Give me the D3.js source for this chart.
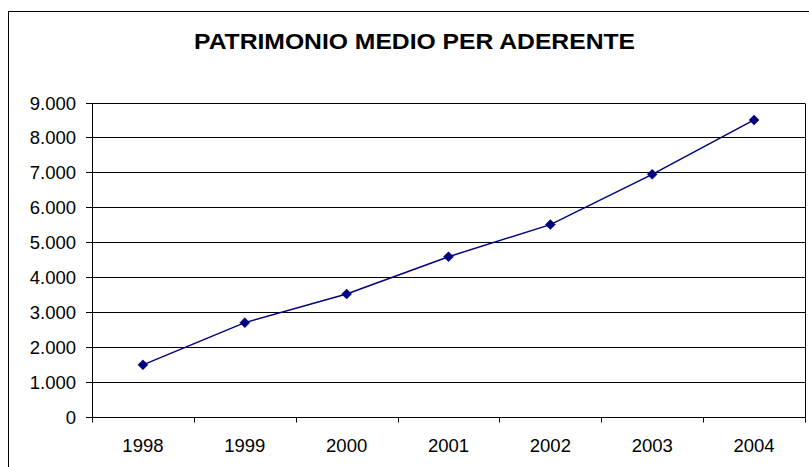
<!DOCTYPE html>
<html>
<head>
<meta charset="utf-8">
<script src="https://cdn.jsdelivr.net/npm/d3@7"></script>
<style>
  html, body { margin: 0; padding: 0; background: #fff; }
  svg { display: block; font-family: "Liberation Sans", Arial, sans-serif; }
</style>
</head>
<body>
<svg id="chart" width="809" height="467"></svg>
<script>
const title = "PATRIMONIO MEDIO PER ADERENTE";
const years = ["1998", "1999", "2000", "2001", "2002", "2003", "2004"];
const values = [1480, 2690, 3510, 4580, 5500, 6940, 8500];
const yTicks = [0, 1000, 2000, 3000, 4000, 5000, 6000, 7000, 8000, 9000];
const yTickLabels = ["0", "1.000", "2.000", "3.000", "4.000", "5.000", "6.000", "7.000", "8.000", "9.000"];

const svg = d3.select("#chart");
const W = 809, H = 467;
const plot = { left: 92, right: 805, top: 102.5, bottom: 416.5 };

svg.append("rect").attr("x", 0).attr("y", 0).attr("width", W).attr("height", H).attr("fill", "#fff");
// outer chart border
svg.append("rect")
  .attr("x", 8.5).attr("y", 11.5).attr("width", W + 10).attr("height", H + 10)
  .attr("fill", "none").attr("stroke", "#000").attr("stroke-width", 1);

// title
svg.append("text")
  .attr("x", (194 + 635) / 2).attr("y", 48.5)
  .attr("text-anchor", "middle")
  .attr("font-size", 22).attr("font-weight", "bold")
  .attr("textLength", 441).attr("lengthAdjust", "spacingAndGlyphs")
  .text(title);

const x = d3.scaleBand().domain(years).range([plot.left, plot.right]).padding(0);
const y = d3.scaleLinear().domain([0, 9000]).range([plot.bottom, plot.top]);

// gridlines
svg.append("g").selectAll("line").data(yTicks.filter(d => d > 0)).join("line")
  .attr("x1", plot.left).attr("x2", plot.right)
  .attr("y1", d => Math.round(y(d)) + 0.5).attr("y2", d => Math.round(y(d)) + 0.5)
  .attr("stroke", "#000").attr("stroke-width", 1);

// plot area right border
svg.append("line")
  .attr("x1", plot.right + 0.5).attr("x2", plot.right + 0.5)
  .attr("y1", Math.round(y(9000)) + 0.5).attr("y2", Math.round(y(0)) + 0.5)
  .attr("stroke", "#000");

// y axis
const yAxis = d3.axisLeft(y).tickValues(yTicks)
  .tickFormat((d, i) => yTickLabels[i]).tickSize(6).tickPadding(10);
const gy = svg.append("g").attr("transform", `translate(${plot.left},0)`).call(yAxis);
gy.select(".domain").remove();
gy.selectAll(".tick line").attr("stroke", "#000");
gy.selectAll(".tick").attr("transform", d => `translate(0,${Math.round(y(d)) + 0.5})`);
gy.append("line").attr("x1", 0.5).attr("x2", 0.5)
  .attr("y1", Math.round(y(9000))).attr("y2", Math.round(y(0)) + 1).attr("stroke", "#000");
gy.selectAll(".tick text")
  .attr("font-size", 18.5).attr("font-family", "'Liberation Sans', Arial, sans-serif")
  .attr("fill", "#000").attr("dy", "0.36em").attr("x", -16);

// x axis
const gx = svg.append("g").attr("transform", `translate(0,${Math.round(y(0)) + 0.5})`);
gx.append("line").attr("x1", plot.left).attr("x2", plot.right + 1).attr("stroke", "#000");
const bounds = years.map(d => x(d)).concat([x(years[years.length - 1]) + x.bandwidth()]);
gx.selectAll("line.tk").data(bounds).join("line").attr("class", "tk")
  .attr("x1", d => Math.round(d) + 0.5).attr("x2", d => Math.round(d) + 0.5)
  .attr("y1", 0).attr("y2", 5).attr("stroke", "#000");
gx.selectAll("text").data(years).join("text")
  .attr("x", d => x(d) + x.bandwidth() / 2).attr("y", 34)
  .attr("text-anchor", "middle").attr("font-size", 18.5).attr("fill", "#000")
  .text(d => d);

// line
const pts = years.map((d, i) => [x(d) + x.bandwidth() / 2, y(values[i])]);
svg.append("path")
  .attr("d", d3.line()(pts))
  .attr("fill", "none").attr("stroke", "#000080").attr("stroke-width", 1.5);

// markers
svg.append("g").selectAll("path").data(pts).join("path")
  .attr("transform", d => `translate(${d[0]},${d[1]})`)
  .attr("d", "M0,-5L5,0L0,5L-5,0Z")
  .attr("fill", "#000080").attr("stroke", "#000080").attr("stroke-width", 0.5);
</script>
</body>
</html>
